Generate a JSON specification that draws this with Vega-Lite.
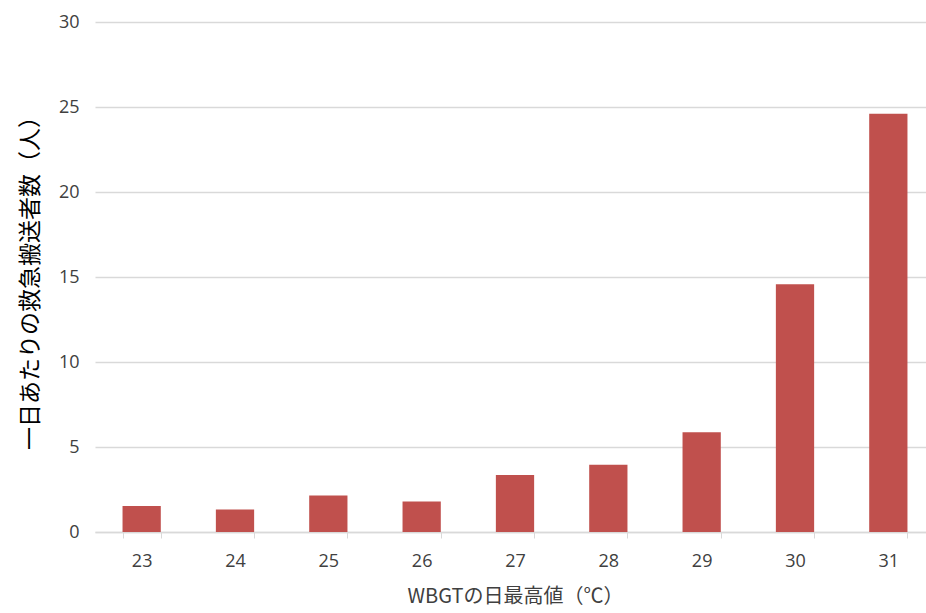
{
  "$schema": "https://vega.github.io/schema/vega-lite/v6.json",
  "autosize": {"type": "none"},
  "padding": {"left": 95, "top": 22, "right": 0, "bottom": 81},
  "width": 840,
  "height": 510,
  "background": "white",
  "config": {
    "view": {"stroke": null},
    "font": "Noto Sans CJK JP"
  },
  "data": {
    "values": [
      {"wbgt": "23", "count": 1.53},
      {"wbgt": "24", "count": 1.33},
      {"wbgt": "25", "count": 2.15},
      {"wbgt": "26", "count": 1.8},
      {"wbgt": "27", "count": 3.35},
      {"wbgt": "28", "count": 3.96},
      {"wbgt": "29", "count": 5.87},
      {"wbgt": "30", "count": 14.57},
      {"wbgt": "31", "count": 24.6}
    ]
  },
  "mark": {"type": "bar", "color": "#C0504D"},
  "encoding": {
    "x": {
      "field": "wbgt",
      "type": "ordinal",
      "scale": {"paddingInner": 0.59, "paddingOuter": 0.295},
      "axis": {
        "title": "WBGTの日最高値（℃）",
        "titleFont": "Noto Sans CJK JP",
        "titleFontSize": 20,
        "titleFontWeight": "normal",
        "titleColor": "#404040",
        "titlePadding": 16,
        "labelAngle": 0,
        "labelFont": "Open Sans",
        "labelFontSize": 18,
        "labelColor": "#404040",
        "labelPadding": 14,
        "tickBand": "extent",
        "tickColor": "#d9d9d9",
        "tickSize": 6,
        "domainColor": "#d9d9d9",
        "domainWidth": 1.5,
        "grid": false
      }
    },
    "y": {
      "field": "count",
      "type": "quantitative",
      "scale": {"domain": [0, 30]},
      "axis": {
        "title": "一日あたりの救急搬送者数（人）",
        "titleFont": "Noto Sans CJK JP",
        "titleFontSize": 23,
        "titleFontWeight": "normal",
        "titleColor": "#000000",
        "titlePadding": 16,
        "values": [0, 5, 10, 15, 20, 25, 30],
        "labelFont": "Open Sans",
        "labelFontSize": 18,
        "labelColor": "#404040",
        "labelPadding": 16,
        "ticks": false,
        "domain": false,
        "grid": true,
        "gridColor": "#d9d9d9",
        "gridWidth": 1.5
      }
    }
  }
}
